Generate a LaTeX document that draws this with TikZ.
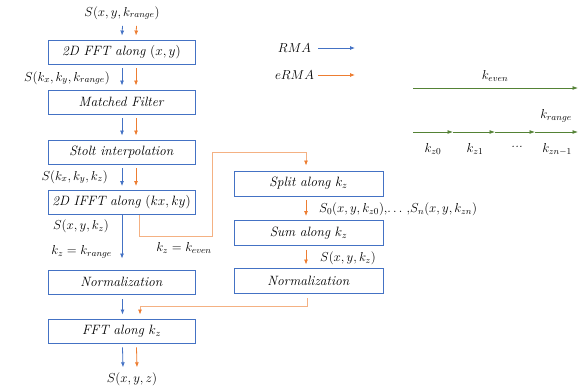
\documentclass[tikz,border=0pt]{standalone}
\usepackage{fix-cm}
\usepackage{amsmath}
\usepackage{tikz}
\usetikzlibrary{arrows.meta,positioning,calc}

\definecolor{rmablue}{HTML}{4472C4}
\definecolor{ermaorange}{HTML}{ED7D31}
\definecolor{ermalight}{HTML}{F4B183}
\definecolor{kgreen}{HTML}{548235}

\tikzset{
	procbox/.style={draw=rmablue,line width=0.9pt,minimum width=147pt,minimum height=24pt,inner sep=0pt,font=\fontsize{13.5}{16}\selectfont},
	lbl/.style={font=\fontsize{13}{15}\selectfont,inner sep=1pt},
	rma/.style={rmablue,line width=0.8pt,-{Latex[length=5pt,width=4pt]}},
	erma/.style={ermaorange,line width=0.8pt,-{Latex[length=5pt,width=4pt]}},
	ermapath/.style={ermalight,line width=0.8pt,-{Latex[length=5pt,width=4pt,color=ermaorange]}},
	kaxis/.style={kgreen,line width=0.8pt,-{Latex[length=5.5pt,width=4pt]}},
}

\begin{document}
\begin{tikzpicture}[x=1pt,y=-1pt]
	\useasboundingbox (0,0) rectangle (587,389);

	% RMA chain
	\node[lbl] (in) at (122,13) {$S(x,y,k_{range})$};
	\node[procbox] (fft2) at (121.5,52   ) {\textit{2D FFT along} $(x,y)$};
	\node[procbox] (mf)   at (121.5,102  ) {\textit{Matched Filter}};
	\node[procbox] (stlt) at (121.5,152  ) {\textit{Stolt interpolation}};
	\node[procbox] (ifft) at (121.5,202.5) {\textit{2D IFFT along} $(kx,ky)$};
	\node[procbox] (norm) at (121.5,282  ) {\textit{Normalization}};
	\node[procbox] (fftz) at (121.5,331  ) {\textit{FFT along} $k_z$};
	\node[lbl] (out) at (132,379) {$S(x,y,z)$};

	% eRMA branch
	\node[procbox,minimum width=149pt,minimum height=25pt] (splt)  at (308.5,183.5) {\textit{Split along} $k_z$};
	\node[procbox,minimum width=149pt,minimum height=25pt] (sum)   at (308.5,233  ) {\textit{Sum along} $k_z$};
	\node[procbox,minimum width=149pt,minimum height=25pt] (normb) at (308.5,280.5) {\textit{Normalization}};

	\draw[rma ] ($(in.south)+(0.5,5)$)    -- ($(fft2.north)+(0.5,-4)$);
	\draw[erma] ($(in.south)+(14.5,5)$)   -- ($(fft2.north)+(14.5,-4)$);
	\draw[rma ] ($(fft2.south)+(0.5,4)$)  -- ($(mf.north)+(0.5,-4)$);
	\draw[erma] ($(fft2.south)+(14.5,4)$) -- ($(mf.north)+(14.5,-4)$);
	\draw[rma ] ($(mf.south)+(0.5,4)$)    -- ($(stlt.north)+(0.5,-4)$);
	\draw[erma] ($(mf.south)+(14.5,4)$)   -- ($(stlt.north)+(14.5,-4)$);
	\draw[rma ] ($(stlt.south)+(0.5,4)$)  -- ($(ifft.north)+(0.5,-4)$);
	\draw[erma] ($(stlt.south)+(14.5,4)$) -- ($(ifft.north)+(14.5,-4)$);
	\draw[rma ] ($(ifft.south)+(0.5,0)$)  -- ($(norm.north)+(0.5,-11)$);
	\draw[rma ] ($(norm.south)+(1,5)$)    -- ($(fftz.north)+(1,-4)$);
	\draw[rma ] ($(fftz.south)+(1,4)$)    -- ($(out.north)+(-9,-4)$);
	\draw[erma] ($(fftz.south)+(15,4)$)   -- ($(out.north)+(5,-4)$);

	\draw[ermapath] ($(ifft.south)+(17.5,0)$) -- ++(0,21) -- ++(73,0) |- ($(splt.north)+(-2.5,-18)$) -- ($(splt.north)+(-2.5,-5)$);
	\draw[erma] ($(splt.south)+(-2.5,4)$) -- ($(sum.north)+(-2.5,-4)$);
	\draw[erma] ($(sum.south)+(-2.5,4)$)  -- ($(normb.north)+(-2.5,-3)$);
	\draw[ermapath] ($(normb.south)+(-1.5,5)$) -- ++(0,8) -| ($(fftz.north)+(18.5,-4)$);

	% signal labels
	\node[lbl,anchor=east] (skr)  at (111,78 ) {$S(k_x,k_y,k_{range})$};
	\node[lbl,anchor=east] (skz)  at (109,177) {$S(k_x,k_y,k_z)$};
	\node[lbl,anchor=east] (sxyk) at (110,226) {$S(x,y,k_z)$};
	\node[lbl,anchor=east] (kzr)  at (113,252) {$k_z = k_{range}$};
	\node[lbl] (kze) at (184,248) {$k_z = k_{even}$};
	\node[lbl,anchor=west] (sn)   at (318,209) {$S_0(x,y,k_{z0}),\!\ldots\,,\!S_n(x,y,k_{zn})$};
	\node[lbl,anchor=west] (ssum) at (319,258) {$S(x,y,k_z)$};

	% legend
	\node[lbl] (lrma)  at (294.5,48) {$RMA$};
	\node[lbl] (lerma) at (294.5,75) {$eRMA$};
	\coordinate (ra) at (318,48); \coordinate (rb) at (355,48);
	\coordinate (ea) at (318,75); \coordinate (eb) at (355,75);
	\draw[rma ] (ra) -- (rb);
	\draw[erma] (ea) -- (eb);

	% k axes
	\coordinate (e0) at (413,88); \coordinate (e1) at (578,88);
	\draw[kaxis] (e0) -- (e1);
	\node[lbl] (keven) at (495,76) {$k_{even}$};
	\coordinate (g0) at (413,132);
	\coordinate (g1) at (453,132);
	\coordinate (g2) at (495,132);
	\coordinate (g3) at (535,132);
	\coordinate (g4) at (578,132);
	\draw[kaxis] (g0) -- (g1);
	\draw[kaxis] (g1) -- (g2);
	\draw[kaxis] (g2) -- (g3);
	\draw[kaxis] (g3) -- (g4);
	\node[lbl] (krange) at (556,116) {$k_{range}$};
	\node[lbl] (kz0) at (433,149) {$k_{z0}$};
	\node[lbl] (kz1) at (475,149) {$k_{z1}$};
	\node[lbl] (kzd) at (517,147) {\textit{...}};
	\node[lbl] (kzn) at (557,149) {$k_{zn-1}$};
\end{tikzpicture}
\end{document}
